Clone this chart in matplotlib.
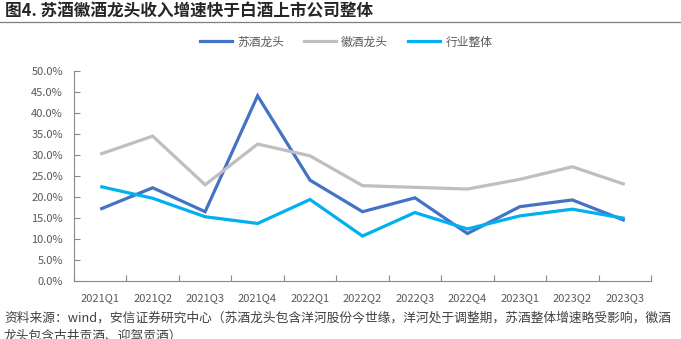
import matplotlib
matplotlib.use("Agg")
import matplotlib.pyplot as plt
from matplotlib.ticker import FixedLocator, FuncFormatter
from matplotlib.lines import Line2D

plt.rcParams['font.family'] = ['Noto Sans CJK SC', 'DejaVu Sans']

quarters = ["2021Q1", "2021Q2", "2021Q3", "2021Q4", "2022Q1", "2022Q2",
            "2022Q3", "2022Q4", "2023Q1", "2023Q2", "2023Q3"]
su_leaders = [17.1, 22.2, 16.5, 44.1, 24.0, 16.5, 19.8, 11.3, 17.7, 19.3, 14.4]
hui_leaders = [30.2, 34.5, 22.9, 32.6, 29.8, 22.7, 22.3, 21.9, 24.2, 27.2, 23.0]
industry = [22.5, 19.7, 15.3, 13.7, 19.4, 10.7, 16.3, 12.4, 15.5, 17.1, 14.9]
series_names = ["苏酒龙头", "徽酒龙头", "行业整体"]
y_ticks = [0, 5, 10, 15, 20, 25, 30, 35, 40, 45, 50]

title = "图4. 苏酒徽酒龙头收入增速快于白酒上市公司整体"
source_lines = ["资料来源：wind，安信证券研究中心（苏酒龙头包含洋河股份今世缘，洋河处于调整期，苏酒整体增速略受影响，徽酒",
                "龙头包含古井贡酒、迎驾贡酒）"]

colors = ["#4472C4", "#BFBFBF", "#00B0F0"]
axis_color = "#898989"
text_color = "#595959"

fig = plt.figure(figsize=(6.81, 3.39), dpi=100)
ax = fig.add_axes([74 / 681, 58 / 339, 577 / 681, 210 / 339])

x = list(range(len(quarters)))
for vals, c in zip([su_leaders, hui_leaders, industry], colors):
    ax.plot(x, vals, color=c, lw=2.3, solid_joinstyle='miter', solid_capstyle='butt')

ax.set_xlim(-0.5, len(quarters) - 0.5)
ax.set_ylim(0, 50)

for s in ["top", "right"]:
    ax.spines[s].set_visible(False)
for s in ["left", "bottom"]:
    ax.spines[s].set_color(axis_color)
    ax.spines[s].set_linewidth(0.8)

ax.yaxis.set_major_locator(FixedLocator(y_ticks))
ax.yaxis.set_major_formatter(FuncFormatter(lambda v, p: f"{v:.1f}%"))
ax.tick_params(axis='y', direction='in', length=4, width=0.8, color=axis_color,
               labelsize=8, labelcolor=text_color, pad=8)

ax.set_xticks(x)
ax.set_xticklabels(quarters)
ax.tick_params(axis='x', which='major', length=0, labelsize=8, labelcolor=text_color, pad=9)
ax.xaxis.set_minor_locator(FixedLocator([i - 0.5 for i in range(len(quarters) + 1)]))
ax.tick_params(axis='x', which='minor', direction='in', length=4, width=0.8, color=axis_color)

handles = [Line2D([0], [0], color=c, lw=2.3) for c in colors]
fig.legend(handles, series_names, loc='center', bbox_to_anchor=(346 / 681, 1 - 42 / 339),
           ncol=3, frameon=False, fontsize=8.5, handlelength=2.7, columnspacing=1.7,
           handletextpad=0.45, labelcolor=text_color)

fig.text(5 / 681, 1 - 11 / 339, title, fontsize=12, fontweight='bold', color="#262626",
         va='center', ha='left')
fig.add_artist(Line2D([0, 1], [1 - 22 / 339, 1 - 22 / 339], color="#7F7F7F", lw=0.9))

for i, line in enumerate(source_lines):
    fig.text(4 / 681, 1 - (318 + 18 * i) / 339, line, fontsize=9.2, color="#404040",
             va='center', ha='left')

fig.savefig("out.png", dpi=100)
